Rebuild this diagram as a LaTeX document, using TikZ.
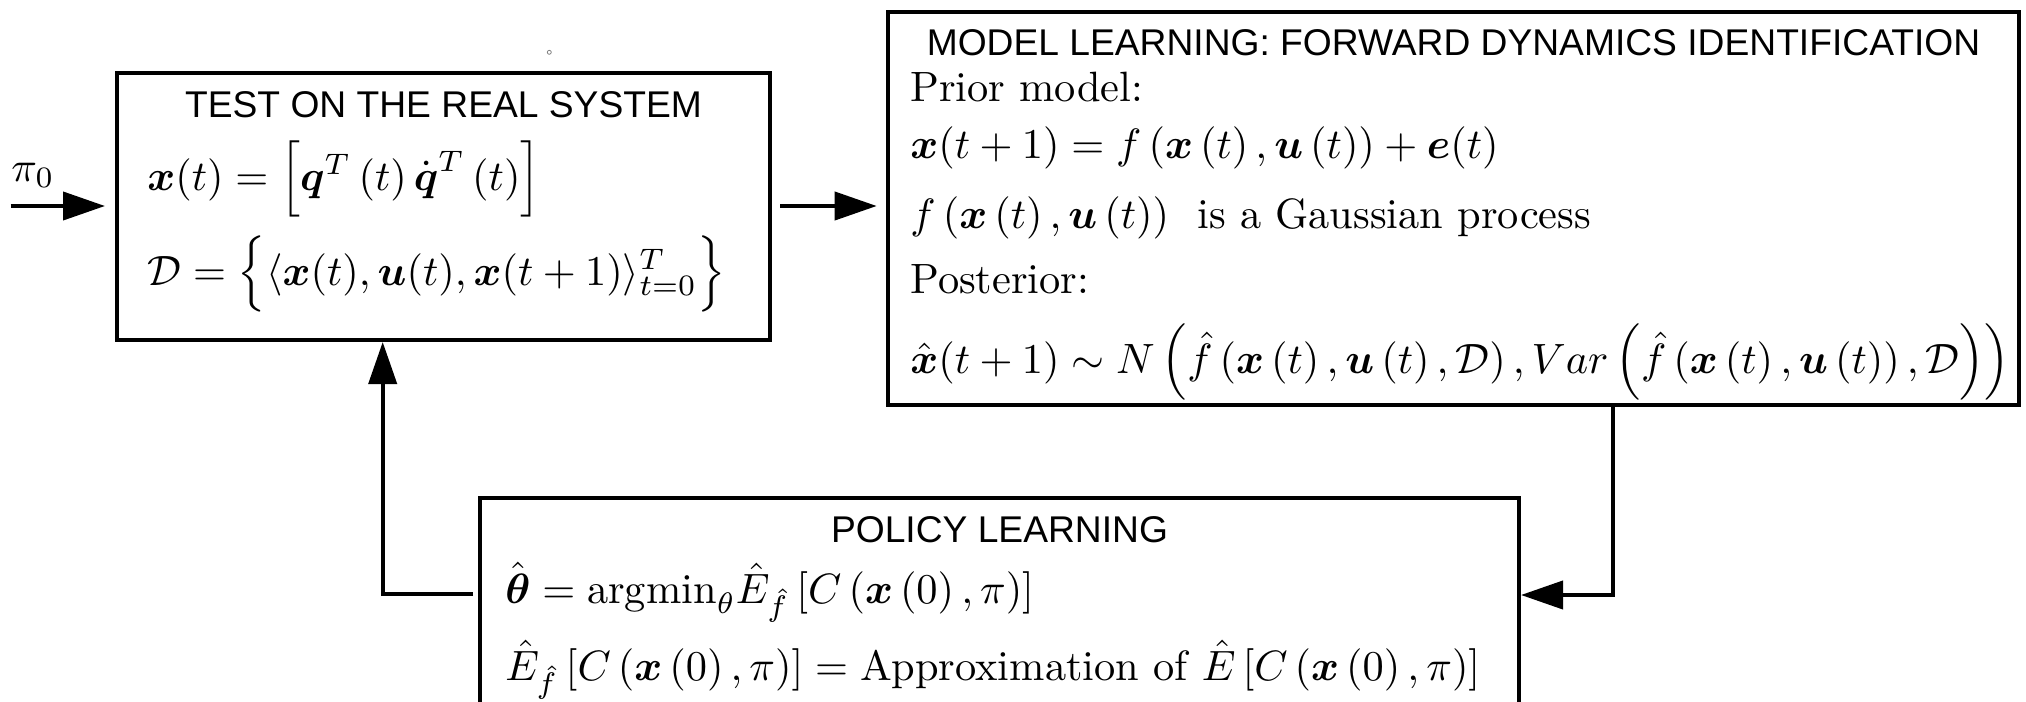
\documentclass[tikz,border=0pt]{standalone}
\usepackage{amsmath}
\usepackage{graphicx}
\usepackage{fontspec}
\newfontfamily\headfont{Liberation Sans}
\usetikzlibrary{arrows.meta}

\newcommand{\bx}{\boldsymbol{x}}
\newcommand{\bu}{\boldsymbol{u}}
% formulas are set at 10pt and enlarged as a whole
\newcommand{\enl}[1]{\scalebox{2.12}{#1}}
% strut that makes \left/\right pick the \Big size
\newcommand{\bigstrut}{\vphantom{\Big(}}

\begin{document}
\begin{tikzpicture}[x=0.5pt,y=-0.5pt,
  box/.style={draw, line width=2pt, rectangle, inner sep=0pt},
  conn/.style={line width=2pt, -{Triangle[length=21pt,width=14pt]}},
  head/.style={anchor=base, inner sep=0pt, font=\headfont\fontsize{18.6}{22}\selectfont},
  eq/.style={anchor=base west, inner sep=0pt, font=\fontsize{10}{12}\selectfont}]

\useasboundingbox (0,0) rectangle (2026,702);
\clip (0,0) rectangle (2026,702);

% the three blocks
\node[box, minimum width=326.5pt, minimum height=133.75pt] (test) at (443.5,206.25) {};
\node[box, minimum width=565.5pt, minimum height=196.75pt] (model) at (1453.5,208.25) {};
\node[box, minimum width=519.5pt, minimum height=131.25pt] (policy) at (999.5,628.75) {};

% test on the real system
\node[head] (testT) at (443.5,117) {TEST ON THE REAL SYSTEM};
\node[eq] (testA) at (147,190) {\enl{$\bx(t)=\Bigl[\boldsymbol{q}^T\left(t\right)\dot{\boldsymbol{q}}^T\left(t\right)\Bigr]$}};
\node[eq] (testB) at (147,285) {\enl{$\mathcal{D}=\Bigl\{\langle\bx(t),\bu(t),\bx(t+1)\rangle_{t=0}^T\Bigr\}$}};

% model learning
\node[head] (modelT) at (1453.5,55.7) {MODEL LEARNING: FORWARD DYNAMICS IDENTIFICATION};
\node[eq] (m1) at (910,101.7) {\enl{Prior model:}};
\node[eq] (m2) at (910,158) {\enl{$\bx(t+1)=f\left(\bx\left(t\right),\bu\left(t\right)\right)+\boldsymbol{e}(t)$}};
\node[eq] (m3) at (910,228) {\enl{$f\left(\bx\left(t\right),\bu\left(t\right)\right)$\ \ is a Gaussian process}};
\node[eq] (m4) at (910,293) {\enl{Posterior:}};
\node[eq] (m5) at (910,373) {\enl{$\hat{\bx}(t+1)\sim N\left(\bigstrut\hat{f}\left(\bx\left(t\right),\bu\left(t\right),\mathcal{D}\right),Var\left(\bigstrut\hat{f}\left(\bx\left(t\right),\bu\left(t\right)\right),\mathcal{D}\right)\right)$}};

% policy learning
\node[head] (policyT) at (999.5,542) {POLICY LEARNING};
\node[eq] (p1) at (505,603) {\enl{$\hat{\boldsymbol{\theta}}=\mathrm{argmin}_{\theta}\hat{E}_{\hat{f}}\left[C\left(\bx\left(0\right),\pi\right)\right]$}};
\node[eq] (p2) at (505,680) {\enl{$\hat{E}_{\hat{f}}\left[C\left(\bx\left(0\right),\pi\right)\right]=\text{Approximation of }\hat{E}\left[C\left(\bx\left(0\right),\pi\right)\right]$}};

% initial policy input
\node[eq] (pi) at (11,181) {\enl{$\pi_0$}};
\coordinate (src) at (10.7,206);

% connectors
\draw[conn, shorten >=5pt] (src) -- (src -| test.west);
\draw[conn, shorten <=4pt, shorten >=4.65pt] (test.east |- src) -- (src -| model.west);

\coordinate (rc) at (1613,595);
\draw[conn] (rc |- model.south) -- (rc) -- (rc -| policy.east);

\coordinate (lc) at (382.7,594);
\draw[conn, shorten <=2.5pt] (lc -| policy.west) -- (lc) -- (lc |- test.south);

% small mark above the first block
\draw[gray, line width=0.4pt] (549.3,52.3) circle[radius=1pt];
\end{tikzpicture}
\end{document}
